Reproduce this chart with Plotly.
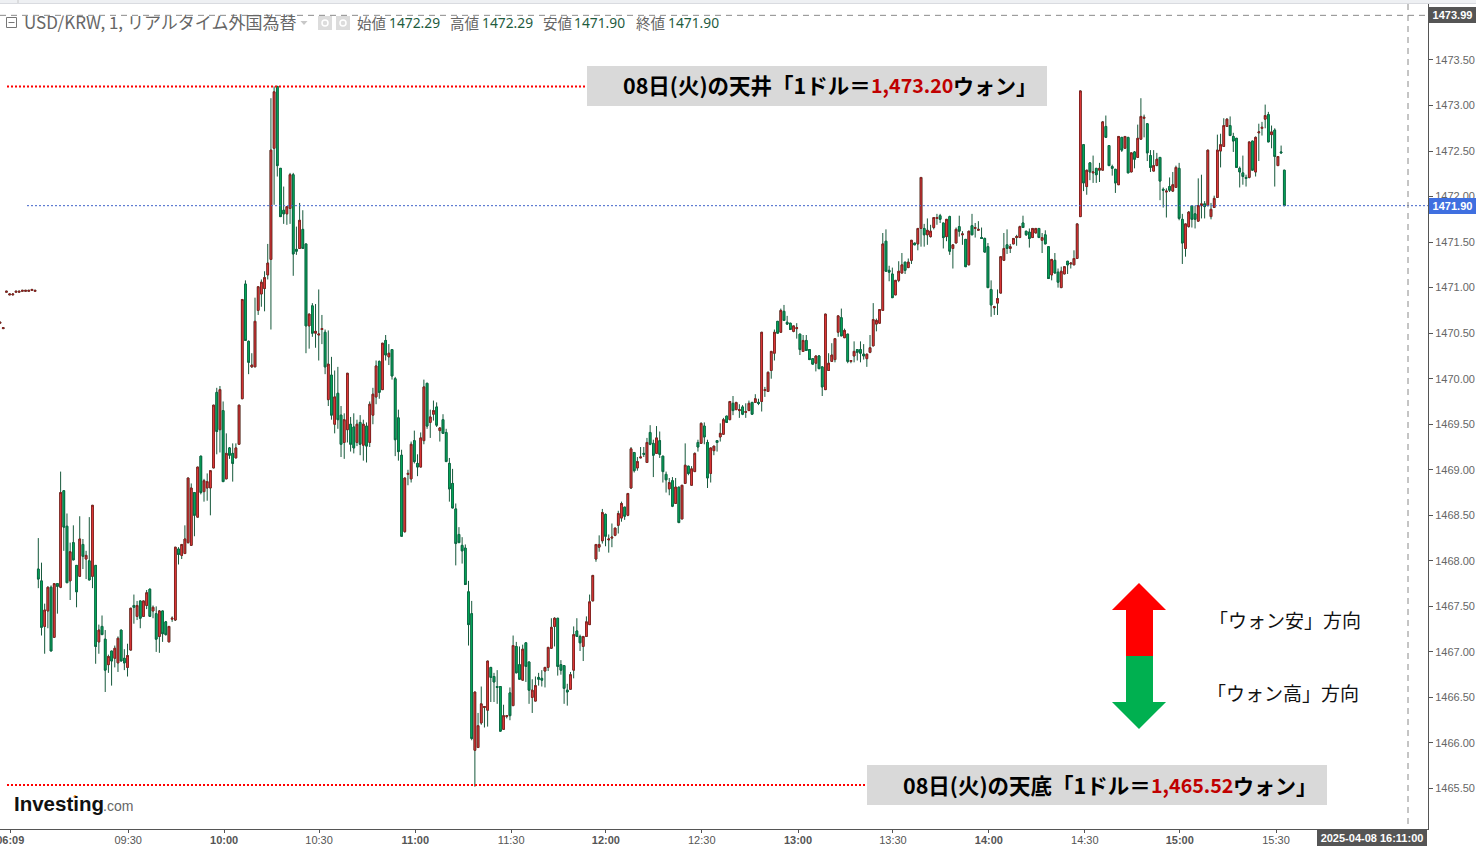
import plotly.graph_objects as go

# price bars, oldest first; bar number starts at -12
OPEN = [
1470.61,1470.55,1470.95,1470.92,1470.92,1470.95,1470.95,1470.96,1470.96,1470.96,1470.97,1470.96,
1467.91,1467.78,1467.28,1467.45,1467.71,1467.16,1467.75,1467.71,1468.77,1468.38,
1467.78,1468.20,1467.95,1467.83,1468.18,1468.02,1468.00,1467.83,1467.95,1467.11,
1467.28,1467.14,1466.86,1467.01,1466.93,1466.88,1467.24,1466.93,1466.83,1467.02,
1467.51,1467.39,1467.56,1467.39,1467.51,1467.69,1467.45,1467.42,1467.17,1467.45,
1467.33,1467.11,1467.36,1467.35,1468.13,1468.06,1468.08,1468.20,1468.17,1468.75,
1468.48,1469.15,1468.76,1468.80,1468.80,1469.02,1469.85,1469.44,1469.65,1468.90,
1469.24,1469.18,1469.13,1469.28,1469.78,1471.04,1470.41,1470.13,1470.13,1470.75,
1470.93,1470.99,1471.14,1471.31,1472.53,1473.21,1472.31,1471.85,1471.81,1471.87,
1472.24,1471.42,1471.43,1471.64,1471.48,1470.58,1470.80,1470.50,1470.48,1470.54,
1470.51,1469.77,1470.04,1469.50,1469.84,1469.60,1469.30,1469.44,1469.50,1469.47,
1469.30,1469.52,1469.27,1469.48,1469.30,1469.60,1469.80,1470.19,1469.88,1470.42,
1470.24,1470.32,1470.00,1469.57,1469.16,1468.32,1468.95,1468.90,1469.32,1469.07,
1469.03,1469.32,1469.95,1469.52,1469.61,1469.69,1469.43,1469.55,1469.41,1469.07,
1468.85,1468.57,1468.29,1468.17,1468.14,1467.66,1467.42,1465.92,1465.95,1466.22,
1466.39,1466.36,1466.83,1466.73,1466.62,1466.62,1466.15,1466.29,1466.55,1466.41,
1467.06,1466.86,1466.69,1467.10,1466.89,1466.50,1466.46,1466.72,1466.71,1466.79,
1466.83,1467.04,1467.28,1467.37,1466.86,1466.85,1466.58,1466.59,1466.80,1467.23,
1467.17,1467.06,1467.17,1467.30,1467.56,1468.02,1468.15,1468.22,1468.51,1468.23,
1468.25,1468.28,1468.39,1468.47,1468.59,1468.50,1468.80,1469.19,1469.02,1469.13,
1469.18,1469.08,1469.41,1469.29,1469.18,1469.32,1469.15,1468.95,1468.79,1468.88,
1468.63,1468.81,1468.46,1468.85,1469.04,1468.83,1468.98,1469.30,1469.29,1469.48,
1469.30,1468.96,1469.21,1469.32,1469.36,1469.39,1469.59,1469.55,1469.73,1469.66,
1469.65,1469.69,1469.63,1469.65,1469.74,1469.74,1469.74,1469.75,1469.87,1469.86,
1470.09,1470.28,1470.63,1470.51,1470.74,1470.62,1470.61,1470.52,1470.55,1470.49,
1470.30,1470.42,1470.32,1470.22,1470.17,1470.25,1470.13,1469.88,1470.09,1470.19,
1470.21,1470.51,1470.67,1470.45,1470.49,1470.19,1470.25,1470.32,1470.32,1470.27,
1470.22,1470.29,1470.36,1470.60,1470.61,1470.75,1471.51,1471.19,1471.15,1470.92,
1471.08,1471.16,1471.28,1471.22,1471.30,1471.49,1471.48,1471.65,1471.65,1471.58,
1471.56,1471.66,1471.76,1471.79,1471.71,1471.56,1471.78,1471.43,1471.49,1471.67,
1471.58,1471.53,1471.25,1471.68,1471.65,1471.63,1471.55,1471.54,1471.45,1470.98,
1470.78,1470.83,1470.94,1471.30,1471.47,1471.43,1471.48,1471.55,1471.55,1471.71,
1471.62,1471.61,1471.55,1471.60,1471.65,1471.52,1471.58,1471.45,1471.14,1471.30,
1471.17,1471.00,1471.15,1471.29,1471.26,1471.25,1471.32,1471.78,1472.57,1472.11,
1472.37,1472.26,1472.31,1472.29,1472.29,1472.77,1472.56,1472.33,1472.30,1472.13,
1472.65,1472.53,1472.65,1472.27,1472.49,1472.43,1472.63,1472.86,1472.80,1472.45,
1472.28,1472.34,1472.43,1472.08,1472.05,1472.11,1472.06,1472.10,1472.31,1471.75,
1471.43,1471.67,1471.90,1471.81,1471.73,1471.90,1471.92,1471.90,1471.78,1471.88,
1471.99,1472.50,1472.55,1472.77,1472.78,1472.66,1472.64,1472.31,1472.26,1472.21,
1472.21,1472.61,1472.27,1472.70,1472.75,1472.85,1472.90,1472.68,1472.73,1472.34,
1472.49,1472.29,
]
HIGH = [
1470.62,1470.56,1470.96,1470.93,1470.93,1470.96,1470.96,1470.97,1470.97,1470.97,1470.98,1470.97,
1468.25,1467.98,1467.53,1467.72,1467.73,1467.75,1467.75,1468.98,1468.77,1468.52,
1468.20,1468.39,1467.95,1468.49,1468.24,1468.11,1468.48,1468.61,1467.95,1467.30,
1467.40,1467.24,1466.97,1467.01,1467.07,1467.17,1467.24,1467.03,1467.09,1467.48,
1467.63,1467.56,1467.56,1467.56,1467.68,1467.69,1467.51,1467.50,1467.46,1467.45,
1467.34,1467.28,1467.39,1468.15,1468.15,1468.18,1468.39,1468.91,1468.85,1468.75,
1469.03,1469.15,1468.90,1468.96,1468.99,1469.71,1469.90,1469.92,1469.75,1469.40,
1469.25,1469.29,1469.29,1469.71,1470.87,1471.08,1470.42,1470.28,1470.89,1471.01,
1471.09,1471.18,1471.48,1473.08,1473.21,1473.21,1472.31,1472.11,1471.89,1472.26,
1472.26,1471.67,1471.93,1471.85,1471.48,1470.71,1470.83,1470.82,1470.98,1470.70,
1470.54,1470.53,1470.24,1470.09,1470.13,1469.70,1469.62,1470.06,1469.58,1469.62,
1469.55,1469.60,1469.55,1469.52,1469.75,1469.90,1470.20,1470.20,1470.39,1470.48,
1470.38,1470.32,1470.02,1469.66,1469.22,1468.91,1469.00,1469.31,1469.43,1469.17,
1469.41,1469.99,1469.95,1469.66,1469.76,1469.74,1469.46,1469.61,1469.45,1469.13,
1469.01,1468.63,1468.37,1468.26,1468.18,1467.78,1467.56,1466.56,1466.33,1466.62,
1466.40,1466.90,1466.83,1466.77,1466.80,1466.62,1466.42,1466.30,1466.61,1467.18,
1467.11,1467.06,1467.08,1467.10,1466.89,1466.70,1466.73,1466.77,1466.80,1466.83,
1467.05,1467.37,1467.38,1467.37,1466.91,1466.85,1466.65,1466.78,1467.28,1467.37,
1467.19,1467.17,1467.39,1467.63,1467.84,1468.18,1468.28,1468.57,1468.52,1468.29,
1468.41,1468.36,1468.55,1468.65,1468.59,1468.74,1469.25,1469.19,1469.14,1469.25,
1469.25,1469.35,1469.49,1469.33,1469.48,1469.42,1469.15,1468.98,1468.91,1468.92,
1468.91,1468.81,1468.83,1469.29,1469.04,1469.04,1469.19,1469.33,1469.52,1469.52,
1469.33,1469.24,1469.26,1469.32,1469.51,1469.57,1469.59,1469.75,1469.81,1469.74,
1469.72,1469.71,1469.73,1469.76,1469.74,1469.83,1469.78,1470.51,1469.91,1470.08,
1470.30,1470.54,1470.63,1470.77,1470.81,1470.69,1470.61,1470.58,1470.61,1470.49,
1470.48,1470.48,1470.32,1470.22,1470.25,1470.26,1470.13,1470.71,1470.28,1470.39,
1470.44,1470.69,1470.77,1470.55,1470.49,1470.20,1470.41,1470.32,1470.41,1470.38,
1470.27,1470.48,1470.83,1470.66,1470.76,1471.60,1471.64,1471.24,1471.22,1471.08,
1471.29,1471.38,1471.28,1471.32,1471.52,1471.49,1471.65,1472.21,1471.70,1471.76,
1471.69,1471.77,1471.81,1471.81,1471.71,1471.75,1471.79,1471.47,1471.66,1471.79,
1471.62,1471.53,1471.62,1471.81,1471.71,1471.73,1471.66,1471.55,1471.49,1471.08,
1470.80,1470.98,1471.34,1471.60,1471.64,1471.48,1471.54,1471.58,1471.68,1471.79,
1471.62,1471.65,1471.65,1471.65,1471.65,1471.60,1471.63,1471.45,1471.31,1471.38,
1471.21,1471.23,1471.23,1471.29,1471.27,1471.41,1471.70,1473.16,1472.57,1472.29,
1472.37,1472.45,1472.31,1472.37,1472.83,1472.89,1472.56,1472.35,1472.30,1472.66,
1472.65,1472.66,1472.65,1472.48,1472.50,1472.79,1473.08,1472.90,1472.80,1472.51,
1472.51,1472.48,1472.43,1472.10,1472.09,1472.21,1472.27,1472.34,1472.37,1471.81,
1471.70,1471.84,1471.90,1471.90,1472.20,1472.24,1471.95,1472.51,1471.93,1472.01,
1472.68,1472.69,1472.86,1472.86,1472.88,1472.70,1472.64,1472.33,1472.45,1472.24,
1472.60,1472.61,1472.66,1472.80,1472.82,1473.01,1472.93,1472.78,1472.75,1472.44,
1472.56,1472.29,
]
LOW = [
1470.61,1470.55,1470.95,1470.92,1470.92,1470.95,1470.95,1470.96,1470.96,1470.96,1470.97,1470.96,
1467.70,1467.18,1466.98,1467.26,1467.01,1467.16,1467.42,1467.70,1468.11,1467.76,
1467.57,1468.01,1467.49,1467.83,1467.91,1467.80,1467.79,1467.70,1466.87,1466.98,
1467.19,1466.56,1466.77,1466.63,1466.83,1466.78,1466.90,1466.80,1466.73,1467.02,
1467.31,1467.35,1467.26,1467.39,1467.47,1467.39,1467.37,1467.00,1466.99,1467.11,
1467.18,1467.11,1467.33,1467.34,1467.96,1468.02,1468.08,1468.19,1468.17,1468.27,
1468.48,1468.73,1468.65,1468.66,1468.50,1469.02,1469.17,1469.19,1468.87,1468.90,
1469.12,1468.87,1469.13,1469.28,1469.78,1470.42,1470.05,1470.12,1470.13,1470.70,
1470.79,1470.74,1471.09,1470.54,1471.91,1472.22,1471.78,1471.70,1471.69,1471.70,
1471.13,1471.36,1471.43,1471.43,1470.28,1470.33,1470.46,1470.34,1470.20,1470.38,
1470.05,1469.70,1469.55,1469.40,1469.45,1469.14,1469.12,1469.30,1469.20,1469.18,
1469.26,1469.16,1469.10,1469.08,1469.25,1469.50,1469.72,1469.78,1469.88,1470.20,
1470.15,1469.99,1469.15,1469.10,1468.27,1468.31,1468.83,1468.86,1469.07,1468.93,
1469.03,1469.28,1469.45,1469.35,1469.54,1469.47,1469.31,1469.40,1469.09,1468.65,
1468.58,1467.95,1468.20,1467.97,1467.74,1467.07,1466.03,1465.52,1465.95,1466.20,
1466.17,1466.18,1466.45,1466.45,1466.43,1466.13,1466.15,1466.27,1466.25,1466.41,
1466.77,1466.70,1466.69,1466.67,1466.43,1466.33,1466.46,1466.63,1466.62,1466.61,
1466.79,1467.04,1467.06,1466.74,1466.75,1466.43,1466.41,1466.59,1466.71,1467.17,
1467.01,1466.90,1467.17,1467.30,1467.56,1467.99,1468.10,1468.19,1468.16,1468.09,
1468.15,1468.27,1468.30,1468.43,1468.45,1468.49,1468.79,1468.97,1468.99,1469.13,
1469.14,1469.08,1469.27,1468.92,1469.18,1469.13,1468.86,1468.75,1468.72,1468.59,
1468.63,1468.42,1468.46,1468.85,1468.94,1468.83,1468.98,1469.20,1469.29,1469.28,
1468.80,1468.86,1469.16,1469.20,1469.31,1469.39,1469.52,1469.55,1469.60,1469.66,
1469.57,1469.60,1469.57,1469.65,1469.61,1469.74,1469.71,1469.64,1469.80,1469.86,
1470.00,1470.20,1470.50,1470.51,1470.64,1470.59,1470.54,1470.51,1470.44,1470.26,
1470.30,1470.31,1470.21,1470.16,1470.08,1470.11,1469.81,1469.88,1470.09,1470.19,
1470.18,1470.46,1470.47,1470.45,1470.17,1470.17,1470.18,1470.20,1470.18,1470.21,
1470.13,1470.28,1470.36,1470.52,1470.61,1470.75,1471.18,1471.07,1470.89,1470.92,
1471.06,1471.16,1471.15,1471.22,1471.26,1471.47,1471.41,1471.45,1471.45,1471.47,
1471.55,1471.64,1471.69,1471.71,1471.43,1471.51,1471.36,1471.21,1471.49,1471.56,
1471.47,1471.23,1471.25,1471.58,1471.55,1471.63,1471.54,1471.39,1471.00,1470.68,
1470.70,1470.70,1470.94,1471.30,1471.37,1471.38,1471.48,1471.46,1471.55,1471.66,
1471.57,1471.44,1471.55,1471.60,1471.55,1471.38,1471.48,1471.10,1471.08,1471.16,
1471.00,1471.00,1471.15,1471.15,1471.21,1471.25,1471.32,1471.78,1472.06,1472.02,
1472.18,1472.15,1472.15,1472.16,1472.29,1472.65,1472.34,1472.23,1472.04,1472.13,
1472.49,1472.53,1472.26,1472.27,1472.31,1472.43,1472.63,1472.65,1472.39,1472.27,
1472.28,1472.34,1471.96,1471.88,1471.77,1472.05,1472.05,1472.10,1471.74,1471.26,
1471.34,1471.66,1471.66,1471.65,1471.73,1471.76,1471.76,1471.90,1471.75,1471.88,
1471.99,1472.32,1472.55,1472.77,1472.67,1472.49,1472.32,1472.10,1472.13,1472.11,
1472.20,1472.29,1472.22,1472.39,1472.67,1472.75,1472.60,1472.53,1472.11,1472.34,
1472.48,1471.90,
]
CLOSE = [
1470.62,1470.56,1470.96,1470.93,1470.93,1470.96,1470.96,1470.97,1470.97,1470.97,1470.98,1470.97,
1467.80,1467.27,1467.46,1467.71,1467.01,1467.75,1467.72,1468.75,1468.37,1467.76,
1468.10,1468.01,1467.66,1468.24,1468.05,1468.06,1467.79,1468.61,1467.06,1467.24,
1467.19,1466.80,1466.95,1466.90,1467.04,1467.15,1466.90,1466.88,1466.96,1467.48,
1467.49,1467.51,1467.37,1467.56,1467.65,1467.39,1467.49,1467.14,1467.45,1467.20,
1467.19,1467.28,1467.37,1468.15,1468.07,1468.18,1468.24,1468.91,1468.80,1468.50,
1469.03,1468.75,1468.88,1468.87,1468.99,1469.71,1469.42,1469.88,1468.87,1469.18,
1469.16,1469.07,1469.24,1469.71,1470.87,1470.42,1470.18,1470.15,1470.63,1471.01,
1471.06,1471.11,1471.27,1472.51,1473.15,1472.34,1471.78,1471.81,1471.89,1472.24,
1471.37,1471.40,1471.74,1471.43,1470.58,1470.71,1470.50,1470.52,1470.49,1470.55,
1470.13,1470.16,1469.60,1469.80,1469.55,1469.28,1469.55,1470.06,1469.28,1469.24,
1469.50,1469.28,1469.50,1469.26,1469.72,1469.83,1470.14,1469.85,1470.39,1470.26,
1470.28,1470.03,1469.33,1469.20,1468.27,1468.91,1468.96,1469.28,1469.09,1469.03,
1469.35,1469.91,1469.48,1469.58,1469.65,1469.49,1469.46,1469.40,1469.09,1468.79,
1468.58,1468.19,1468.20,1468.11,1467.74,1467.30,1466.05,1466.56,1466.19,1466.43,
1466.40,1466.90,1466.72,1466.67,1466.61,1466.13,1466.30,1466.30,1466.30,1467.07,
1466.77,1466.70,1467.03,1466.84,1466.58,1466.58,1466.63,1466.70,1466.69,1466.83,
1467.05,1467.27,1467.37,1466.84,1466.80,1466.60,1466.56,1466.75,1467.19,1467.17,
1467.10,1467.17,1467.33,1467.55,1467.84,1468.18,1468.18,1468.53,1468.27,1468.24,
1468.26,1468.36,1468.52,1468.63,1468.49,1468.74,1469.23,1468.99,1469.09,1469.14,
1469.17,1469.30,1469.28,1469.16,1469.35,1469.17,1468.98,1468.89,1468.86,1468.60,
1468.81,1468.42,1468.83,1469.05,1468.96,1469.01,1469.18,1469.25,1469.51,1469.36,
1468.91,1469.24,1469.26,1469.30,1469.40,1469.55,1469.52,1469.75,1469.65,1469.74,
1469.66,1469.61,1469.64,1469.73,1469.61,1469.78,1469.73,1470.51,1469.88,1470.07,
1470.30,1470.51,1470.50,1470.75,1470.64,1470.60,1470.54,1470.58,1470.56,1470.32,
1470.42,1470.31,1470.21,1470.16,1470.25,1470.11,1469.91,1470.71,1470.17,1470.26,
1470.44,1470.69,1470.47,1470.53,1470.19,1470.20,1470.30,1470.29,1470.28,1470.25,
1470.27,1470.34,1470.65,1470.64,1470.76,1471.48,1471.18,1471.17,1470.89,1471.08,
1471.18,1471.25,1471.19,1471.28,1471.52,1471.47,1471.65,1472.21,1471.58,1471.63,
1471.62,1471.77,1471.77,1471.75,1471.55,1471.75,1471.40,1471.47,1471.64,1471.62,
1471.59,1471.23,1471.62,1471.58,1471.66,1471.64,1471.54,1471.39,1471.00,1470.81,
1470.79,1470.88,1471.34,1471.43,1471.43,1471.45,1471.54,1471.56,1471.67,1471.66,
1471.58,1471.54,1471.65,1471.65,1471.55,1471.55,1471.48,1471.10,1471.31,1471.16,
1471.06,1471.18,1471.23,1471.25,1471.27,1471.32,1471.70,1473.16,1472.15,1472.29,
1472.27,1472.27,1472.24,1472.31,1472.82,1472.65,1472.34,1472.31,1472.15,1472.66,
1472.51,1472.66,1472.26,1472.48,1472.41,1472.64,1472.88,1472.87,1472.48,1472.32,
1472.34,1472.41,1472.17,1472.07,1472.06,1472.07,1472.13,1472.32,1471.76,1471.49,
1471.70,1471.83,1471.75,1471.75,1471.90,1471.92,1471.89,1472.51,1471.86,1471.98,
1472.51,1472.57,1472.78,1472.85,1472.67,1472.61,1472.32,1472.27,1472.22,1472.20,
1472.60,1472.29,1472.65,1472.71,1472.76,1472.89,1472.60,1472.71,1472.44,1472.44,
1472.48,1471.90,
]
FIRST_BAR = -12
TICK_BARS = [-8.8, 28.2, 58.3, 88.1, 118.3, 148.4, 178.1, 208.2, 238.4, 268.2, 298.3, 328.4, 358.2, 388.4]
TICK_TEXT = ["<b>06:09</b>", "09:30", "<b>10:00</b>", "10:30", "<b>11:00</b>", "11:30", "<b>12:00</b>",
             "12:30", "<b>13:00</b>", "13:30", "<b>14:00</b>", "14:30", "<b>15:00</b>", "15:30"]
PRICE_TICKS = [1465.5, 1466.0, 1466.5, 1467.0, 1467.5, 1468.0, 1468.5, 1469.0, 1469.5,
               1470.0, 1470.5, 1471.0, 1471.5, 1472.0, 1472.5, 1473.0, 1473.5]
LAST_PRICE = 1471.90
CROSS_PRICE = 1473.99
CEILING_LINE = 1473.21
FLOOR_LINE = 1465.54

for series in (HIGH, LOW, CLOSE):
    assert len(series) == len(OPEN), (len(series), len(OPEN))

bars = [FIRST_BAR + i for i in range(len(OPEN))]
top = [max(o, c) for o, c in zip(OPEN, CLOSE)]
bot = [min(o, c) for o, c in zip(OPEN, CLOSE)]

W, H = 1476, 846
L, R, T, B = 0, 1428, 4, 829
PPB = 3.1867
PPP = 91.07
px = lambda x: (x - L) / (R - L)
py = lambda y: (B - y) / (B - T)

JP = "Noto Sans CJK JP"
SANS = "Liberation Sans"
WICK = "#17593c"

fig = go.Figure()
fig.add_trace(go.Candlestick(
    x=bars, open=OPEN, high=HIGH, low=LOW, close=CLOSE, whiskerwidth=0, hoverinfo="skip",
    increasing=dict(line=dict(color=WICK, width=1), fillcolor=WICK),
    decreasing=dict(line=dict(color=WICK, width=1), fillcolor=WICK)))
fig.add_trace(go.Candlestick(
    x=bars, open=OPEN, high=top, low=bot, close=CLOSE, whiskerwidth=0, hoverinfo="skip",
    increasing=dict(line=dict(color="#8a2020", width=1), fillcolor="#ff4040"),
    decreasing=dict(line=dict(color="#0b6a45", width=1), fillcolor="#00c060")))

shapes = []
annos = []

def rect(x0, y0, x1, y1, fill, line=None, layer="above"):
    shapes.append(dict(type="rect", xref="paper", yref="paper", x0=px(x0), x1=px(x1), y0=py(y0), y1=py(y1),
                       fillcolor=fill, line=dict(width=1 if line else 0, color=line or fill), layer=layer))

def seg(x0, y0, x1, y1, color, width=1, dash="solid"):
    shapes.append(dict(type="line", xref="paper", yref="paper", x0=px(x0), x1=px(x1), y0=py(y0), y1=py(y1),
                       line=dict(color=color, width=width, dash=dash)))

def path(points, fill):
    d = "M" + " L".join(f"{px(a):.5f},{py(b):.5f}" for a, b in points) + " Z"
    shapes.append(dict(type="path", xref="paper", yref="paper", path=d, fillcolor=fill, line=dict(width=0)))

def text(x, y, s, size, color, font=JP, anchor="left", **kw):
    annos.append(dict(xref="paper", yref="paper", x=px(x), y=py(y), text=s, showarrow=False, xanchor=anchor,
                      yanchor="middle", font=dict(family=font, size=size, color=color),
                      borderpad=0, borderwidth=0, **kw))

# browser strip on top
rect(0, 0, 1476, 3, "#eef0f3")
seg(0, 3.5, 1476, 3.5, "#d9dbe0")
seg(18, 0, 18, 3, "#c8c8c8")

# price and time guides
shapes.append(dict(type="line", xref="paper", yref="y", x0=0, x1=1, y0=CROSS_PRICE, y1=CROSS_PRICE,
                   line=dict(color="#8a8a8a", width=1, dash="6px,5px")))
shapes.append(dict(type="line", xref="paper", yref="y", x0=px(27), x1=1, y0=LAST_PRICE, y1=LAST_PRICE,
                   line=dict(color="#3f62c9", width=1, dash="2px,2px")))
seg(1408, T, 1408, B, "#8a8a8a", 1, "6px,5px")

# high / low guides and their captions
shapes.append(dict(type="line", xref="paper", yref="y", x0=px(7), x1=px(587), y0=CEILING_LINE, y1=CEILING_LINE,
                   line=dict(color="#ff0000", width=2, dash="2px,2px")))
shapes.append(dict(type="line", xref="paper", yref="y", x0=px(7), x1=px(867), y0=FLOOR_LINE, y1=FLOOR_LINE,
                   line=dict(color="#ff0000", width=2, dash="2px,2px")))
rect(587, 66, 1047, 106, "#d9d9d9")
rect(867, 765, 1327, 805, "#d9d9d9")
for dx, dy, head, num in ((0, 0, "08日(火)の天井「1ドル＝", "1,473.20"), (280, 699.5, "08日(火)の天底「1ドル＝", "1,465.52")):
    text(623 + dx, 85 + dy, f"<b>{head}</b>", 21.5, "#000000")
    text(871 + dx, 85 + dy, f"<b>{num}</b>", 19.7, "#c00000")
    text(953 + dx, 85 + dy, "<b>ウォン」</b>", 21, "#000000")

# direction arrows
path([(1139, 583), (1166, 610), (1153, 610), (1153, 656), (1126, 656), (1126, 610), (1112, 610)], "#ff0000")
path([(1139, 729), (1166, 702), (1153, 702), (1153, 656), (1126, 656), (1126, 702), (1112, 702)], "#00b050")
text(1285, 619, "「ウォン安」方向", 19, "#111111", anchor="center")
text(1282.5, 692.5, "「ウォン高」方向", 19, "#111111", anchor="center")

# header
rect(6.5, 17.5, 16.5, 27.5, "rgba(0,0,0,0)", "#777777")
seg(8.5, 22.5, 14.5, 22.5, "#777777")
text(24, 21.5, "USD/KRW, 1, リアルタイム外国為替", 17, "#666666")
path([(300.5, 21), (307.5, 21), (304, 25)], "#c8c8c8")
for x0 in (318, 336):
    rect(x0, 16, x0 + 14, 30, "#dcdcdc")
    shapes.append(dict(type="circle", xref="paper", yref="paper", x0=px(x0 + 4), x1=px(x0 + 10), y0=py(20), y1=py(26),
                       line=dict(color="#ffffff", width=1.5)))
HEADER = [("始値", 357, "1472.29", 389), ("高値", 450, "1472.29", 482), ("安値", 543, "1471.90", 574), ("終値", 636, "1471.90", 668)]
for lab, x0, val, x1 in HEADER:
    text(x0, 22.5, lab, 14.5, "#666666")
    text(x1, 22.5, val, 13.8, "#1f5c3f", font="Noto Sans")

# logo
text(14, 803.5, "<b>Investing</b>", 20.5, "#111111", font=SANS)
text(103, 805.5, ".com", 14, "#666666", font=SANS)
shapes.append(dict(type="circle", xref="paper", yref="paper", x0=px(73.5), x1=px(76.5), y0=py(798), y1=py(795),
                   fillcolor="#f39a1d", line=dict(width=0)))

# value flags
text(1429, 15, "<b>1473.99</b>", 11, "#ffffff", font=SANS, bgcolor="#555555", width=47, height=16, align="center")
text(1429, 206, "<b>1471.90</b>", 11, "#ffffff", font=SANS, bgcolor="#3f6fe0", width=47, height=16, align="center")
text(1372, 838, "<b>2025-04-08 16:11:00</b>", 11, "#ffffff", font=SANS, anchor="center", bgcolor="#555555",
     width=110, height=16, align="center")

fig.update_layout(
    width=W, height=H, margin=dict(l=L, r=W - R, t=T, b=H - B), autosize=False, boxgap=0.25,
    paper_bgcolor="#ffffff", plot_bgcolor="#ffffff", showlegend=False, shapes=shapes, annotations=annos,
    xaxis=dict(range=[-38.3 / PPB, (R - 38.3) / PPB], tickmode="array", tickvals=TICK_BARS, ticktext=TICK_TEXT,
               automargin=False, showgrid=False, zeroline=False, showline=True, linecolor="#555555", linewidth=1,
               ticks="outside", ticklen=3, tickcolor="#555555", ticklabeloverflow="allow", ticklabelstandoff=-2,
               tickfont=dict(family=SANS, size=11, color="#555555"), rangeslider=dict(visible=False)),
    yaxis=dict(range=[1473 - (B - 105.5) / PPP, 1473 + (105.5 - T) / PPP], side="right", tickmode="array",
               tickvals=PRICE_TICKS, ticktext=[f"{v:.2f}" for v in PRICE_TICKS],
               automargin=False, showgrid=False, zeroline=False, showline=True, linecolor="#555555", linewidth=1,
               ticks="outside", ticklen=4, tickcolor="#555555",
               tickfont=dict(family=SANS, size=11, color="#666666")),
)
fig.write_html("out.html", config=dict(displayModeBar=False),
               post_script="document.body.style.margin='0';document.body.style.overflow='hidden';")
